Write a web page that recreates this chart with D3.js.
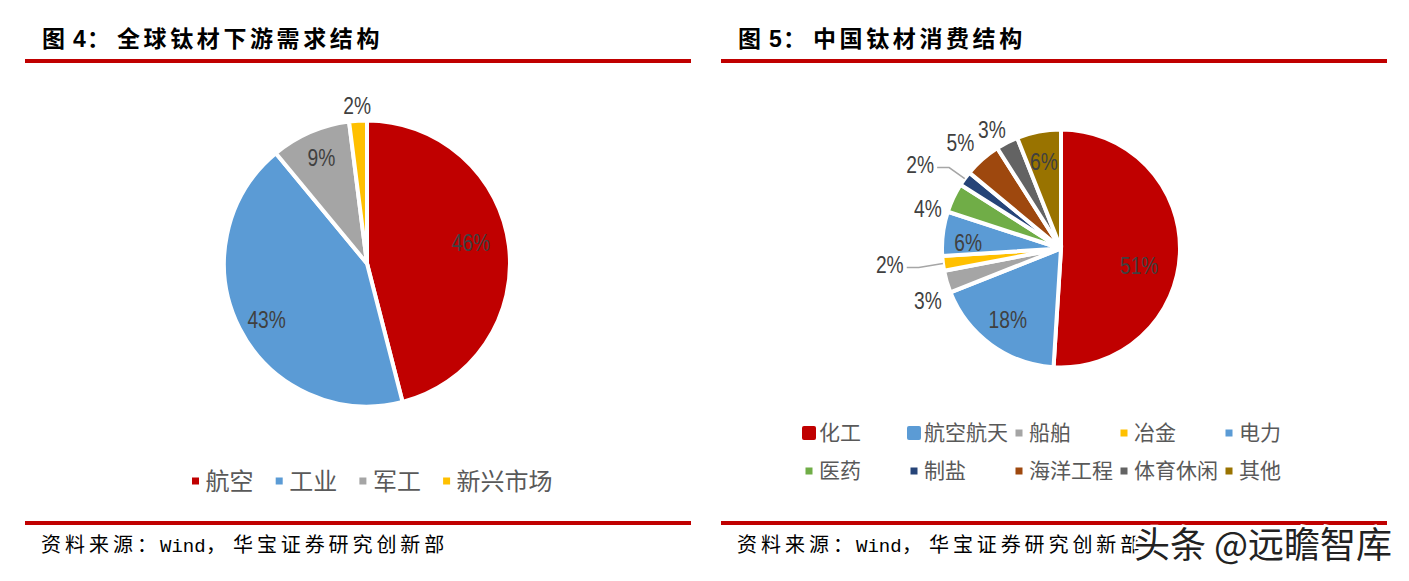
<!DOCTYPE html>
<html>
<head>
<meta charset="utf-8">
<script src="https://cdn.jsdelivr.net/npm/d3@7"></script>
<style>
  body { margin: 0; background: #fff; }
  svg { display: block; }
  text { font-family: "Noto Sans CJK SC", sans-serif; }
</style>
</head>
<body>
<div id="chart"></div>
<script>
// chart 4
const globalNames = ['航空', '工业', '军工', '新兴市场']
const globalValues = [46, 43, 9, 2]
const globalColors = ['#c00000', '#5b9bd5', '#a5a5a5', '#ffc000']
// chart 5
const chinaNames = ['化工', '航空航天', '船舶', '冶金', '电力', '医药', '制盐', '海洋工程', '体育休闲', '其他']
const chinaValues = [51, 18, 3, 2, 6, 4, 2, 5, 3, 6]
const chinaColors = ['#c00000', '#5b9bd5', '#a5a5a5', '#ffc000', '#5b9bd5', '#70ad47', '#264478', '#9e480e', '#636363', '#997300']

// label placement, polar around the pie centre: [radius, degrees clockwise from top]
const globalLabelPos = [[106, 78.6], [115, 240.8], [115, 336.6], [158, 356.4]]
const chinaLabelPos = [[80, 102.3], [89, 216.7], [143, 248.6], [172, 264.7], [93, 273.7],
  [139, 286.7], [164, 300.8], [146, 316.4], [137, 329.7], [88, 348.8]]
const chinaLeaders = ['冶金', '制盐']

const width = 1409
const height = 581
const RED = '#c00000'

const svg = d3.select('#chart').append('svg')
  .attr('width', width)
  .attr('height', height)

function polar (pos) {
  return d3.pointRadial(pos[1] * Math.PI / 180, pos[0])
}

function drawPie (cfg) {
  const g = svg.append('g').attr('transform', `translate(${cfg.cx}, ${cfg.cy})`)
  const pie = d3.pie().sort(null).value(d => d)
  const arcs = pie(cfg.values)
  const arc = d3.arc().innerRadius(0).outerRadius(cfg.r)

  g.selectAll('path.slice')
    .data(arcs)
    .enter()
    .append('path')
    .attr('class', 'slice')
    .attr('d', arc)
    .attr('fill', (d, i) => cfg.colors[i])
    .attr('stroke', '#fff')
    .attr('stroke-width', cfg.gap)

  // leader lines for the two thin slices
  const line = d3.line()
  arcs.forEach((d, i) => {
    if (!cfg.leaders.includes(cfg.names[i])) return
    const mid = (d.startAngle + d.endAngle) / 2
    const edge = d3.pointRadial(mid, cfg.r)
    const lab = polar(cfg.labelPos[i])
    g.append('path')
      .attr('d', line([[lab[0] + 17, lab[1] + 3], [lab[0] + 29, lab[1] + 3], edge]))
      .attr('fill', 'none')
      .attr('stroke', '#a6a6a6')
      .attr('stroke-width', 1.5)
  })

  // the original labels are a narrow face, squeeze Liberation Sans to get there
  g.selectAll('text.val')
    .data(arcs)
    .enter()
    .append('text')
    .attr('class', 'val')
    .attr('transform', (d, i) => `translate(${polar(cfg.labelPos[i])}) scale(0.8, 1)`)
    .attr('text-anchor', 'middle')
    .attr('dominant-baseline', 'central')
    .style('font-family', 'Liberation Sans')
    .style('font-size', '24px')
    .attr('fill', '#404040')
    .text(d => `${d.value}%`)
}

function drawPanel (x0, title, num) {
  svg.append('rect').attr('x', x0).attr('y', 59).attr('width', 666).attr('height', 4).attr('fill', RED)
  svg.append('rect').attr('x', x0).attr('y', 521).attr('width', 666).attr('height', 4).attr('fill', RED)

  const t = svg.append('text').attr('y', 47)
    .style('font-size', '23px')
    .style('font-weight', 700)
    .attr('fill', '#000')
  t.append('tspan').attr('x', x0 + 17).text('图')
  t.append('tspan').attr('x', x0 + 48).style('font-family', 'Liberation Sans').text(num)
  t.append('tspan').attr('x', x0 + 62).text('：')
  t.append('tspan').attr('x', x0 + 92).style('letter-spacing', '3.6px').text(title)

  const s = svg.append('text').attr('y', 552)
    .style('font-size', '20px')
    .attr('fill', '#000')
  s.append('tspan').attr('x', x0 + 16).style('letter-spacing', '4px').text('资料来源：')
  s.append('tspan').attr('x', x0 + 135).style('font-family', 'Liberation Mono').style('font-size', '19px').style('letter-spacing', '0px').text('Wind')
  s.append('tspan').attr('x', x0 + 181).text('，')
  s.append('tspan').attr('x', x0 + 208).style('letter-spacing', '3.9px').text('华宝证券研究创新部')
}

function drawLegend (cfg) {
  const x = d3.scalePoint().domain(d3.range(cfg.perRow)).range([cfg.x0, cfg.x0 + cfg.step * (cfg.perRow - 1)])
  const items = svg.selectAll(null)
    .data(cfg.names)
    .enter()
    .append('g')
    .attr('transform', (d, i) => `translate(${x(i % cfg.perRow)}, ${cfg.y0 + cfg.rowH * Math.floor(i / cfg.perRow)})`)

  items.append('rect')
    .attr('x', (d, i) => -cfg.swatch(i) / 2)
    .attr('y', (d, i) => -cfg.swatch(i) / 2)
    .attr('width', (d, i) => cfg.swatch(i))
    .attr('height', (d, i) => cfg.swatch(i))
    .attr('rx', (d, i) => cfg.swatch(i) > 10 ? 2 : 0)
    .attr('fill', (d, i) => cfg.colors[i])

  items.append('text')
    .attr('x', cfg.textDx)
    .attr('y', cfg.textDy)
    .attr('dominant-baseline', 'central')
    .style('font-size', cfg.fontSize)
    .attr('fill', '#595959')
    .text(d => d)
}

drawPanel(25, '全球钛材下游需求结构', '4')
drawPanel(721, '中国钛材消费结构', '5')

drawPie({cx: 367, cy: 263.5, r: 143, gap: 4, values: globalValues, names: globalNames,
  colors: globalColors, labelPos: globalLabelPos, leaders: []})
drawPie({cx: 1061, cy: 248.5, r: 119, gap: 4, values: chinaValues, names: chinaNames,
  colors: chinaColors, labelPos: chinaLabelPos, leaders: chinaLeaders})

drawLegend({names: globalNames, colors: globalColors, perRow: 4, x0: 195.5, step: 83.7, y0: 481, rowH: 0,
  swatch: () => 7, textDx: 10, textDy: -2, fontSize: '24px'})
drawLegend({names: chinaNames, colors: chinaColors, perRow: 5, x0: 809, step: 105, y0: 433, rowH: 38,
  swatch: i => (i < 2 ? 14 : 7), textDx: 10, textDy: -2, fontSize: '21px'})

// watermark sits on top of the right source line
svg.append('text')
  .attr('x', 1134)
  .attr('y', 558)
  .style('font-size', '36px')
  .style('paint-order', 'stroke')
  .attr('stroke', '#fff')
  .attr('stroke-width', 5)
  .attr('fill', '#222')
  .text('头条 @远瞻智库')
</script>
</body>
</html>
